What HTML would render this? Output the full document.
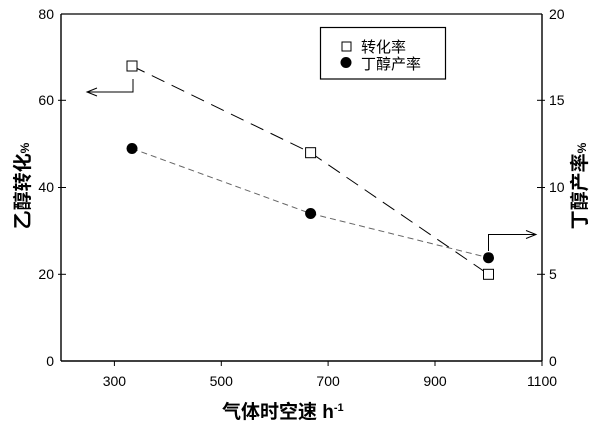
<!DOCTYPE html>
<html><head><meta charset="utf-8"><style>
html,body{margin:0;padding:0;background:#fff;}
svg{display:block;}
text{font-family:"Liberation Sans","Noto Sans CJK SC",sans-serif;fill:#000;}
</style></head><body>
<svg width="600" height="427" viewBox="0 0 600 427" xmlns="http://www.w3.org/2000/svg">
<rect width="600" height="427" fill="#fff"/>
<!-- axes box -->
<line x1="61" y1="14" x2="542" y2="14" stroke="#000" stroke-width="1.2"/>
<line x1="61" y1="14" x2="61" y2="361" stroke="#000" stroke-width="1.4"/>
<line x1="542" y1="14" x2="542" y2="361" stroke="#000" stroke-width="1.4"/>
<line x1="61" y1="361" x2="542" y2="361" stroke="#000" stroke-width="1.4"/>
<!-- left ticks -->
<g stroke="#000" stroke-width="1">
<line x1="58" y1="100.3" x2="66" y2="100.3"/>
<line x1="58" y1="187.5" x2="66" y2="187.5"/>
<line x1="58" y1="274.3" x2="66" y2="274.3"/>
<!-- right ticks -->
<line x1="537" y1="100.3" x2="545" y2="100.3"/>
<line x1="537" y1="187.5" x2="545" y2="187.5"/>
<line x1="537" y1="274.3" x2="545" y2="274.3"/>
<!-- x ticks -->
<line x1="114.4" y1="361" x2="114.4" y2="366"/>
<line x1="221.3" y1="361" x2="221.3" y2="366"/>
<line x1="328.1" y1="361" x2="328.1" y2="366"/>
<line x1="435" y1="361" x2="435" y2="366"/>
<line x1="542" y1="361" x2="542" y2="366"/>
</g>
<!-- left tick labels -->
<g font-size="14" text-anchor="end">
<text x="54" y="19">80</text>
<text x="54" y="105">60</text>
<text x="54" y="192">40</text>
<text x="54" y="279">20</text>
<text x="54" y="366">0</text>
</g>
<!-- right tick labels -->
<g font-size="14" text-anchor="start">
<text x="549" y="19">20</text>
<text x="549" y="105">15</text>
<text x="549" y="192">10</text>
<text x="549" y="279">5</text>
<text x="549" y="366">0</text>
</g>
<!-- x tick labels -->
<g font-size="14" text-anchor="middle">
<text x="114.4" y="386">300</text>
<text x="221.3" y="386">500</text>
<text x="328.1" y="386">700</text>
<text x="435" y="386">900</text>
<text x="542" y="386">1100</text>
</g>
<!-- axis titles -->
<text x="222" y="418" font-size="19" font-weight="bold">气体时空速 h<tspan font-size="11" dy="-7">-1</tspan></text>
<text transform="translate(29,186) rotate(-90)" text-anchor="middle" font-size="19" font-weight="bold">乙醇转化<tspan font-size="12">%</tspan></text>
<text transform="translate(586,186) rotate(-90)" text-anchor="middle" font-size="19" font-weight="bold">丁醇产率<tspan font-size="12">%</tspan></text>
<!-- series lines -->
<polyline points="132,66 310.6,152.7 488.5,274.3" fill="none" stroke="#000" stroke-width="1" stroke-dasharray="14,8"/>
<polyline points="132,148.5 310.6,213.5 488.5,257.7" fill="none" stroke="#666" stroke-width="1" stroke-dasharray="6,4"/>
<!-- markers -->
<rect x="127" y="61" width="10" height="10" fill="#fff" stroke="#000" stroke-width="1"/>
<rect x="305.6" y="147.7" width="10" height="10" fill="#fff" stroke="#000" stroke-width="1"/>
<rect x="483.5" y="269.3" width="10" height="10" fill="#fff" stroke="#000" stroke-width="1"/>
<circle cx="132" cy="148.5" r="5.5" fill="#000"/>
<circle cx="310.6" cy="213.5" r="5.5" fill="#000"/>
<circle cx="488.5" cy="257.7" r="5.5" fill="#000"/>
<!-- arrows -->
<polyline points="133,79 133,92 88,92" fill="none" stroke="#000" stroke-width="1"/>
<polyline points="97,88 87,92 97,96" fill="none" stroke="#000" stroke-width="1"/>
<polyline points="488.5,251 488.5,234.5 535,234.5" fill="none" stroke="#000" stroke-width="1"/>
<polyline points="526,230.5 536,234.5 526,238.5" fill="none" stroke="#000" stroke-width="1"/>
<!-- legend -->
<rect x="320.5" y="27.5" width="125" height="51.5" fill="#fff" stroke="#000" stroke-width="1.2"/>
<rect x="342" y="42" width="9" height="9" fill="#fff" stroke="#000" stroke-width="1"/>
<circle cx="346" cy="62.5" r="5.5" fill="#000"/>
<text x="361" y="52" font-size="15">转化率</text>
<text x="361" y="69" font-size="15">丁醇产率</text>
</svg>
</body></html>
